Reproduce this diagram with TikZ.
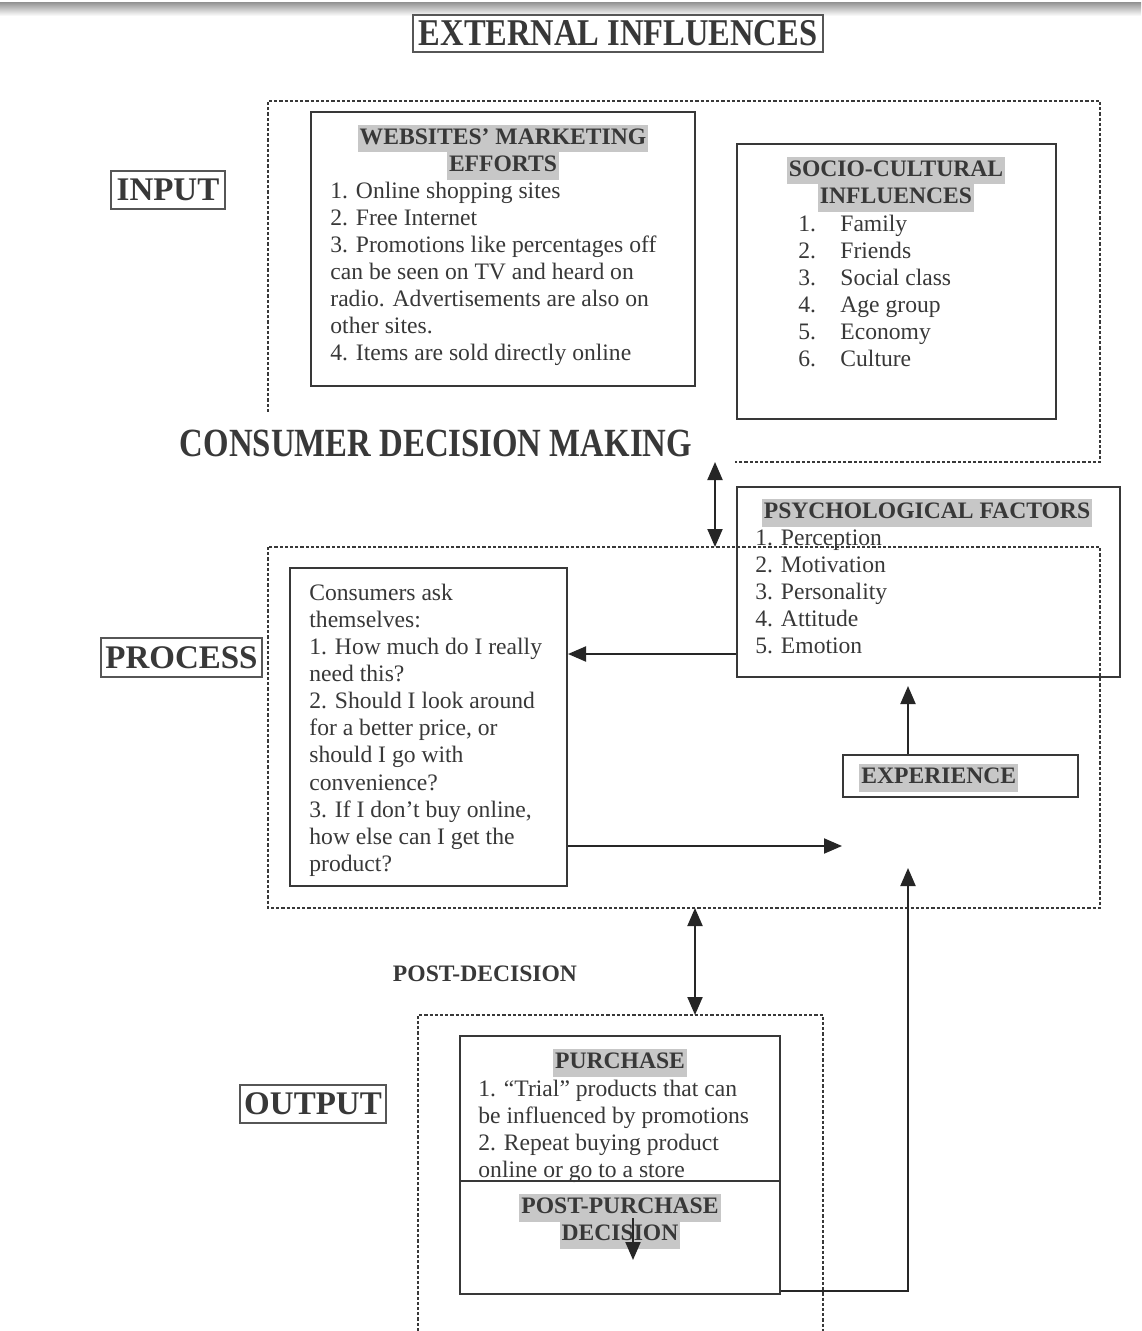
\documentclass[tikz,border=0pt]{standalone}
\usepackage{fontspec}
\setmainfont{Liberation Serif}
\usetikzlibrary{arrows.meta,fit}
\definecolor{ink}{gray}{0.22}
\definecolor{hlgray}{gray}{0.78}
% highlighted heading line
\newcommand{\hlt}[1]{{\setlength{\fboxsep}{0pt}\colorbox{hlgray}{\strut\hspace{1pt}#1\hspace{1pt}}}}
\newcommand{\num}[1]{\makebox[21pt][l]{#1}}
\tikzset{
  x=0.5pt, y=-0.5pt,
  frame/.style={draw=ink, line width=1pt, inner sep=0pt},
  zone/.style={draw=ink, line width=0.9pt, dash pattern=on 1.6pt off 1pt},
  tag/.style={draw=ink!85, line width=0.8pt, inner sep=0pt},
  tagtext/.style={inner sep=0pt, text=ink, font=\fontsize{16.5}{19}\selectfont\bfseries},
  body/.style={anchor=north west, inner sep=0pt, align=left, text=ink,
    font=\fontsize{11.8}{13.55}\selectfont},
  head/.style={anchor=north, inner sep=0pt, align=center, text=ink,
    font=\fontsize{11.8}{13.55}\selectfont\bfseries},
  tip/.style={-{Triangle[length=9pt,width=7.5pt]}, line width=1pt, draw=black!85},
  twotip/.style={{Triangle[length=9pt,width=7.5pt]}-{Triangle[length=9pt,width=7.5pt]},
    line width=1pt, draw=black!85},
}
\begin{document}
\begin{tikzpicture}
\useasboundingbox (0,0) rectangle (1141,1331);
\fill[white] (0,0) rectangle (1141,1331);
\shade[top color=black!40, bottom color=white] (0,3) rectangle (1141,16);

% section labels
\node[tag, fit={(413,15) (823,52)}] (ext) {};
\node[text=ink, inner sep=0pt] (extt) at (ext.center)
  {\scalebox{0.86}[1]{\fontsize{18.9}{22}\selectfont\bfseries EXTERNAL INFLUENCES}};
\node[tag, fit={(111,171) (225,209)}] (input) {};
\node[tagtext] (inputt) at (input.center) {INPUT};
\node[tag, fit={(101,638) (262,677)}] (process) {};
\node[tagtext] (processt) at (process.center) {PROCESS};
\node[tag, fit={(240,1085) (386,1123)}] (output) {};
\node[tagtext] (outputt) at (output.center) {OUTPUT};

% dashed zones
\draw[zone] (268,412) -- (268,101) -- (1100,101) -- (1100,462) -- (735,462);
\draw[zone] (418,1331) -- (418,1015) -- (823,1015) -- (823,1331);

\node[inner sep=0pt, text=ink] (cdm) at (436,443)
  {\scalebox{0.82}[1]{\fontsize{20}{24}\selectfont\bfseries CONSUMER DECISION MAKING}};
\node[inner sep=0pt, text=ink, font=\fontsize{11.8}{14}\selectfont\bfseries] (postdec) at (485,974)
  {POST-DECISION};

% website marketing efforts
\node[frame, fit={(311,112) (695,386)}] (web) {};
\node[head] (webh) at (503,125) {\hlt{WEBSITES’ MARKETING}\\\hlt{EFFORTS}};
\node[body] (webt) at (330,179) {\strut 1. Online shopping sites\\
2. Free Internet\\
3. Promotions like percentages off\\
can be seen on TV and heard on\\
radio. Advertisements are also on\\
other sites.\\
4. Items are sold directly online};

% socio-cultural influences
\node[frame, fit={(737,144) (1056,419)}] (socio) {};
\node[head] (socioh) at (896,157) {\hlt{SOCIO-CULTURAL}\\\hlt{INFLUENCES}};
\node[body] (sociot) at (798,212) {\strut\num{1.}Family\\
\num{2.}Friends\\
\num{3.}Social class\\
\num{4.}Age group\\
\num{5.}Economy\\
\num{6.}Culture};

% psychological factors
\node[frame, fit={(737,487) (1120,677)}] (psych) {};
\node[head] (psychh) at (927,499) {\hlt{PSYCHOLOGICAL FACTORS}};
\node[body] (psycht) at (755,526) {\strut 1. Perception\\
2. Motivation\\
3. Personality\\
4. Attitude\\
5. Emotion};

% process zone (drawn over the factors box)
\draw[zone] (268,547) rectangle (1100,908);

% consumer questions
\node[frame, fit={(290,568) (567,886)}] (cons) {};
\node[body] (const) at (309,581) {\strut Consumers ask\\
themselves:\\
1. How much do I really\\
need this?\\
2. Should I look around\\
for a better price, or\\
should I go with\\
convenience?\\
3. If I don’t buy online,\\
how else can I get the\\
product?};

% experience
\node[frame, fit={(843,755) (1078,797)}] (exper) {};
\node[body, anchor=west] (expert) at (859,778) {\bfseries\hlt{EXPERIENCE}};

% purchase / post-purchase
\node[frame, fit={(460,1036) (780,1294)}] (purch) {};
\node[head] (purchh) at (620,1049) {\hlt{PURCHASE}};
\node[body] (purcht) at (478,1077) {\strut 1. “Trial” products that can\\
be influenced by promotions\\
2. Repeat buying product\\
online or go to a store};
\draw[ink, line width=1pt] (purch.west |- 0,1181) -- (purch.east |- 0,1181);
\node[head] (posth) at (620,1194) {\hlt{POST-PURCHASE}\\\hlt{DECISION}};

% connectors
\coordinate (inB) at (715,462);
\coordinate (procT) at (715,547);
\draw[twotip] (inB) -- (procT);

\coordinate (procB) at (695,908);
\coordinate (outT) at (695,1015);
\draw[twotip] (procB) -- (outT);

\coordinate (p1) at ([yshift=12pt]psych.south west);
\draw[tip] (p1) -- (p1 -| cons.east);

\coordinate (c1) at ([yshift=20.5pt]cons.south east);
\draw[tip] (c1) -- (c1 -| exper.west);

\coordinate (e1) at ([xshift=-26.25pt]exper.north);
\draw[tip, shorten >=4pt] (e1) -- (e1 |- psych.south);

\coordinate (u1) at ([yshift=2pt]purch.south east);
\coordinate (uend) at (908,868);
\draw[tip] (u1) -| (uend);

\coordinate (d1) at (633,1218);
\coordinate (d2) at (633,1260);
\draw[tip] (d1) -- (d2);
\end{tikzpicture}
\end{document}
